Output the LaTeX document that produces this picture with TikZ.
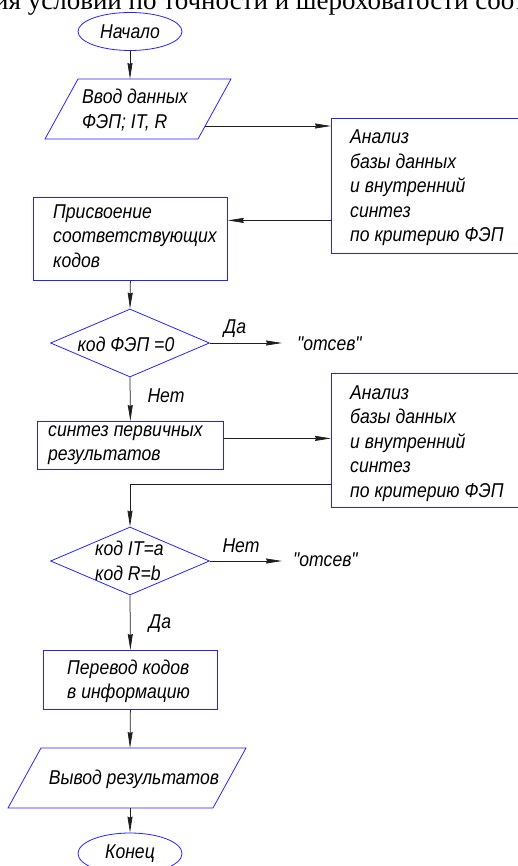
\documentclass[tikz,border=0pt]{standalone}
\usepackage{fontspec}
\setmainfont{Liberation Serif}
\newfontfamily\gost[FakeStretch=0.88]{Liberation Sans}
\usetikzlibrary{arrows.meta,shapes.geometric}
\definecolor{shpblue}{RGB}{35,35,255}
\definecolor{lnk}{RGB}{30,30,30}
\begin{document}
\begin{tikzpicture}[x=1pt,y=-1pt,
  shp/.style={draw=shpblue, line width=0.8pt},
  conn/.style={draw=lnk, line width=0.75pt, -{Stealth[length=16pt,width=5pt,inset=1pt]}},
  gfont/.style={font=\gost\itshape\fontsize{20}{24.5}\selectfont},
  txt/.style={gfont, align=left, inner sep=0pt, text=black},
  box/.style={shp, rectangle, inner sep=0pt, anchor=north west},
  dia/.style={shp, diamond, inner sep=0pt, minimum width=159pt, minimum height=68pt},
  term/.style={shp, ellipse, inner sep=0pt, minimum width=104pt, minimum height=38pt, gfont}]
\useasboundingbox (0,0) rectangle (518,866);
\clip (0,0) rectangle (518,866);

% page text cut at the top
\node[font=\fontsize{27}{27}\selectfont, anchor=base west, inner sep=0pt] (pagetxt) at (-6,10) {ия условий по точности и шероховатости соот};

% start
\node[term] (start) at (130,31.5) {Начало};

% input parallelogram
\draw[shp] (78,79) -- (231,79) -- (198,139) -- (45,139) -- cycle;
\coordinate (in1n) at (130,79);
\coordinate (in1e) at (205,126);
\node[txt, anchor=west] (in1) at (82,110) {Ввод данных\\ФЭП; IT, R};

% analysis box 1
\node[box, minimum width=200, minimum height=135] (an1) at (331,118) {};
\node[txt, anchor=west] (an1t) at (350,188) {Анализ\\базы данных\\и внутренний\\синтез\\по критерию ФЭП};

% assignment box
\node[box, minimum width=194, minimum height=83] (pr) at (33,197) {};
\node[txt, anchor=west] (prt) at (53,236) {Присвоение\\соответствующих\\кодов};

% decision 1
\node[dia] (d1) at (130,343) {};
\node[txt, anchor=center] (d1t) at (126,344) {код ФЭП =0};
\node[txt] (yes1) at (235,329) {Да};
\node[txt, anchor=west] (rej1) at (297,344) {"отсев"};
\node[txt] (no1) at (166,396) {Нет};

% synthesis box
\node[box, minimum width=186, minimum height=48] (syn) at (37,421) {};
\node[txt, anchor=west] (synt) at (48,445) {синтез первичных\\результатов};

% analysis box 2
\node[box, minimum width=200, minimum height=134] (an2) at (331,373) {};
\node[txt, anchor=west] (an2t) at (350,443.5) {Анализ\\базы данных\\и внутренний\\синтез\\по критерию ФЭП};

% decision 2
\node[dia] (d2) at (130,561) {};
\node[txt, anchor=west] (d2t) at (95,561) {код IT=a\\код R=b};
\node[txt] (no2) at (241,546) {Нет};
\node[txt, anchor=west] (rej2) at (293,560) {"отсев"};
\node[txt] (yes2) at (160,624) {Да};

% translation box
\node[box, minimum width=174, minimum height=59] (per) at (43,650) {};
\node[txt, anchor=west] (pert) at (67,681.5) {Перевод кодов\\в информацию};

% output parallelogram
\draw[shp] (41,748) -- (246,748) -- (213,808) -- (8,808) -- cycle;
\coordinate (outn) at (130,748);
\coordinate (outs) at (130,808);
\node[txt] (outt) at (134,779) {Вывод результатов};

% end
\node[term, minimum height=41pt] (end) at (130,853.5) {Конец};

% connectors
\draw[conn] (start.south) -- (in1n);
\draw[conn] (in1e) -- (in1e -| an1.west);
\path ([yshift=-34.5pt]an1.west) coordinate (a1o);
\draw[conn] (a1o) -- (a1o -| pr.east);
\draw[conn] (pr.south) -- (d1.north);
\draw[conn, shorten >=15pt] (d1.east) -- (d1.east -| rej1.west);
\draw[conn] (d1.south) -- (syn.north);
\path ([yshift=7pt]syn.east) coordinate (a2o);
\draw[conn] (a2o) -- (a2o -| an2.west);
\path ([yshift=-44pt]an2.west) coordinate (a2b);
\draw[conn] (a2b) -| (d2.north);
\draw[conn, shorten >=11pt] (d2.east) -- (d2.east -| rej2.west);
\draw[conn] (d2.south) -- (per.north);
\draw[conn] (per.south) -- (outn);
\draw[conn] (outs) -- (end.north);
\end{tikzpicture}
\end{document}
